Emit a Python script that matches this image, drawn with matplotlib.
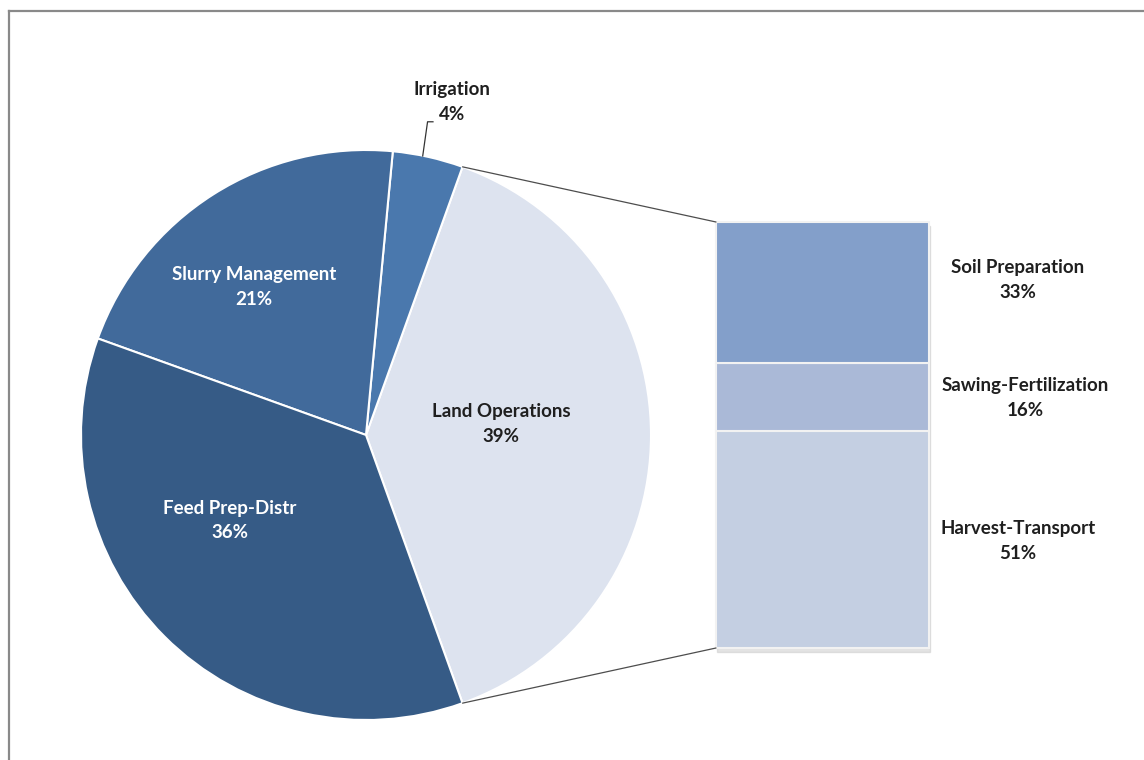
import matplotlib
matplotlib.use("Agg")
import numpy as np
import matplotlib.pyplot as plt
from matplotlib.patches import ConnectionPatch, Rectangle
from matplotlib.lines import Line2D

plt.rcParams['font.family'] = ['Lato', 'DejaVu Sans']

# Energy use shares (%)
pie_labels = ["Land Operations", "Irrigation", "Slurry Management", "Feed Prep-Distr"]
pie_values = [39, 4, 21, 36]
pie_colors = ["#dde3ef", "#4a78ad", "#416a9b", "#365b86"]

# Breakdown of Land Operations (%), listed bottom to top
bar_labels = ["Harvest-Transport", "Sawing-Fertilization", "Soil Preparation"]
bar_values = [51, 16, 33]
bar_colors = ["#c4cfe2", "#aab9d7", "#839fca"]

W, H = 1144, 760
fig = plt.figure(figsize=(W / 100, H / 100), dpi=100)

def px_rect(x0, y0, x1, y1):
    """Figure-fraction rectangle from pixel box (top-left origin)."""
    return [x0 / W, 1 - y1 / H, (x1 - x0) / W, (y1 - y0) / H]

# Frame around the chart area
fig.add_artist(Line2D([9 / W, 1], [1 - 11 / H] * 2, transform=fig.transFigure,
                      color="#898989", lw=1.6))
fig.add_artist(Line2D([9 / W] * 2, [0, 1 - 11 / H], transform=fig.transFigure,
                      color="#898989", lw=1.6))

# Pie
ax = fig.add_axes(px_rect(81, 150, 651, 720))
start = -pie_values[0] * 360 / 100 / 2
wedges, _ = ax.pie(pie_values, colors=pie_colors, startangle=start,
                   counterclock=True, radius=1,
                   wedgeprops=dict(edgecolor="white", linewidth=1.5))
ax.set_xlim(-1, 1)
ax.set_ylim(-1, 1)
ax.set_aspect("equal")
ax.axis("off")

lab_kw = dict(ha="center", va="center", fontsize=13.5, fontweight="bold")
ax.text(0.474, 0.039, f"{pie_labels[0]}\n{pie_values[0]}%", color="#1f1f1f",
        linespacing=1.55, **lab_kw)
ax.text(-0.393, 0.519, f"{pie_labels[2]}\n{pie_values[2]}%", color="white",
        linespacing=1.55, **lab_kw)
ax.text(-0.477, -0.300, f"{pie_labels[3]}\n{pie_values[3]}%", color="white",
        linespacing=1.55, **lab_kw)
ax.text(0.302, 1.211, pie_labels[1], color="#1f1f1f", **lab_kw)
ax.text(0.302, 1.123, f"{pie_values[1]}%", color="#1f1f1f", **lab_kw)
ax.add_line(Line2D([0.199, 0.216, 0.235], [0.979, 1.099, 1.099],
                   color="#333333", lw=0.9, clip_on=False))

# Stacked bar for the Land Operations breakdown
bx = fig.add_axes(px_rect(716, 222, 929, 648))
bx.set_xlim(-0.5, 0.5)
bx.set_ylim(0, sum(bar_values))
bx.axis("off")
shadow = Rectangle((-0.5 + 0.006, -0.9), 1.0, sum(bar_values), color="#c8c8c8",
                   alpha=0.5, clip_on=False, zorder=0)
bx.add_patch(shadow)
bottom = 0
for lab, v, c in zip(bar_labels, bar_values, bar_colors):
    bx.bar(0, v, width=1.0, bottom=bottom, color=c, edgecolor="#f2f2f2",
           linewidth=1.5, clip_on=False, zorder=2)
    bottom += v

# Labels beside the bar
bar_label_pos = {"Soil Preparation": (1018, 280),
                 "Sawing-Fertilization": (1025, 398),
                 "Harvest-Transport": (1018, 541)}
for lab, v in zip(bar_labels, bar_values):
    x, y = bar_label_pos[lab]
    fig.text(x / W, 1 - y / H, f"{lab}\n{v}%", color="#1f1f1f",
             linespacing=1.55, **lab_kw)

# Connector lines from the Land Operations wedge to the bar
t1 = np.deg2rad(wedges[0].theta2)
t0 = np.deg2rad(wedges[0].theta1)
for theta, ybar in ((t1, sum(bar_values)), (t0, 0)):
    con = ConnectionPatch(xyA=(np.cos(theta), np.sin(theta)), coordsA=ax.transData,
                          xyB=(-0.5, ybar), coordsB=bx.transData,
                          color="#4d4d4d", lw=0.9)
    fig.add_artist(con)

fig.savefig("out.png", dpi=100, facecolor="white")
